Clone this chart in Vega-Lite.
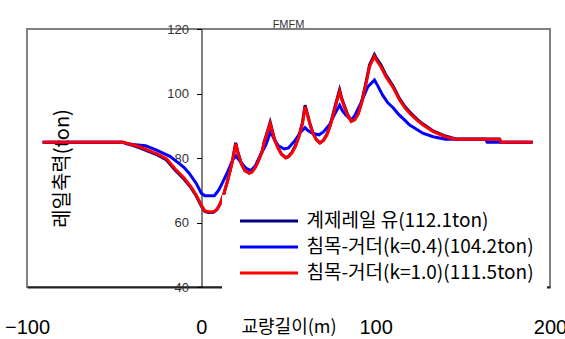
{
  "$schema": "https://vega.github.io/schema/vega-lite/v6.json",
  "width": 523,
  "height": 258,
  "autosize": {"type": "none"},
  "padding": {"left": 27, "top": 29, "right": 15, "bottom": 52},
  "background": "white",
  "title": {"text": "FMFM", "font": "Liberation Sans", "fontSize": 11, "fontWeight": "normal", "color": "#333", "baseline": "bottom", "offset": 4, "dy": 22, "frame": "group", "anchor": "middle"},
  "config": {"view": {"stroke": "#808080", "strokeWidth": 2}},
  "data": {"values": [
    {"s": "계제레일 유(112.1ton)", "x": -91, "y": 84.9}, {"s": "계제레일 유(112.1ton)", "x": -45, "y": 84.9}, {"s": "계제레일 유(112.1ton)", "x": -40, "y": 84.0}, {"s": "계제레일 유(112.1ton)", "x": -35, "y": 83.1}, {"s": "계제레일 유(112.1ton)", "x": -30, "y": 82.0}, {"s": "계제레일 유(112.1ton)", "x": -25, "y": 80.9}, {"s": "계제레일 유(112.1ton)", "x": -20, "y": 79.4}, {"s": "계제레일 유(112.1ton)", "x": -15, "y": 76.2}, {"s": "계제레일 유(112.1ton)", "x": -10, "y": 73.5}, {"s": "계제레일 유(112.1ton)", "x": -6, "y": 70.8}, {"s": "계제레일 유(112.1ton)", "x": -3, "y": 68.3}, {"s": "계제레일 유(112.1ton)", "x": 0, "y": 65.1}, {"s": "계제레일 유(112.1ton)", "x": 2, "y": 63.4}, {"s": "계제레일 유(112.1ton)", "x": 4, "y": 63.1}, {"s": "계제레일 유(112.1ton)", "x": 7, "y": 63.2}, {"s": "계제레일 유(112.1ton)", "x": 9, "y": 64.0}, {"s": "계제레일 유(112.1ton)", "x": 11, "y": 66.0}, {"s": "계제레일 유(112.1ton)", "x": 13, "y": 69.0}, {"s": "계제레일 유(112.1ton)", "x": 15, "y": 72.8}, {"s": "계제레일 유(112.1ton)", "x": 17, "y": 77.2}, {"s": "계제레일 유(112.1ton)", "x": 18, "y": 79.6}, {"s": "계제레일 유(112.1ton)", "x": 19.7, "y": 84.7}, {"s": "계제레일 유(112.1ton)", "x": 21, "y": 81.8}, {"s": "계제레일 유(112.1ton)", "x": 23, "y": 78.2}, {"s": "계제레일 유(112.1ton)", "x": 25, "y": 76.1}, {"s": "계제레일 유(112.1ton)", "x": 27.5, "y": 75.3}, {"s": "계제레일 유(112.1ton)", "x": 29, "y": 75.7}, {"s": "계제레일 유(112.1ton)", "x": 31, "y": 77.2}, {"s": "계제레일 유(112.1ton)", "x": 33, "y": 79.6}, {"s": "계제레일 유(112.1ton)", "x": 35, "y": 82.3}, {"s": "계제레일 유(112.1ton)", "x": 36, "y": 84.9}, {"s": "계제레일 유(112.1ton)", "x": 38, "y": 88.4}, {"s": "계제레일 유(112.1ton)", "x": 39.5, "y": 91.1}, {"s": "계제레일 유(112.1ton)", "x": 41, "y": 87.9}, {"s": "계제레일 유(112.1ton)", "x": 42, "y": 85.8}, {"s": "계제레일 유(112.1ton)", "x": 44, "y": 83.2}, {"s": "계제레일 유(112.1ton)", "x": 46, "y": 81.2}, {"s": "계제레일 유(112.1ton)", "x": 48.5, "y": 80.1}, {"s": "계제레일 유(112.1ton)", "x": 50, "y": 80.5}, {"s": "계제레일 유(112.1ton)", "x": 52, "y": 81.8}, {"s": "계제레일 유(112.1ton)", "x": 54, "y": 83.9}, {"s": "계제레일 유(112.1ton)", "x": 56, "y": 86.9}, {"s": "계제레일 유(112.1ton)", "x": 58, "y": 91.0}, {"s": "계제레일 유(112.1ton)", "x": 59.5, "y": 96.4}, {"s": "계제레일 유(112.1ton)", "x": 61, "y": 93.4}, {"s": "계제레일 유(112.1ton)", "x": 62.5, "y": 90.3}, {"s": "계제레일 유(112.1ton)", "x": 64, "y": 87.8}, {"s": "계제레일 유(112.1ton)", "x": 66, "y": 85.7}, {"s": "계제레일 유(112.1ton)", "x": 68, "y": 84.7}, {"s": "계제레일 유(112.1ton)", "x": 70, "y": 85.5}, {"s": "계제레일 유(112.1ton)", "x": 72, "y": 87.3}, {"s": "계제레일 유(112.1ton)", "x": 74, "y": 90.4}, {"s": "계제레일 유(112.1ton)", "x": 76, "y": 94.5}, {"s": "계제레일 유(112.1ton)", "x": 77.5, "y": 97.6}, {"s": "계제레일 유(112.1ton)", "x": 79.3, "y": 101.2}, {"s": "계제레일 유(112.1ton)", "x": 80.5, "y": 98.6}, {"s": "계제레일 유(112.1ton)", "x": 82, "y": 96.3}, {"s": "계제레일 유(112.1ton)", "x": 84, "y": 93.4}, {"s": "계제레일 유(112.1ton)", "x": 86, "y": 91.5}, {"s": "계제레일 유(112.1ton)", "x": 88, "y": 92.0}, {"s": "계제레일 유(112.1ton)", "x": 90, "y": 93.9}, {"s": "계제레일 유(112.1ton)", "x": 92, "y": 97.5}, {"s": "계제레일 유(112.1ton)", "x": 94.5, "y": 103.6}, {"s": "계제레일 유(112.1ton)", "x": 96.5, "y": 108.9}, {"s": "계제레일 유(112.1ton)", "x": 99.3, "y": 112.1}, {"s": "계제레일 유(112.1ton)", "x": 100.5, "y": 110.9}, {"s": "계제레일 유(112.1ton)", "x": 103, "y": 108.9}, {"s": "계제레일 유(112.1ton)", "x": 106, "y": 105.6}, {"s": "계제레일 유(112.1ton)", "x": 110, "y": 102.3}, {"s": "계제레일 유(112.1ton)", "x": 113.6, "y": 98.5}, {"s": "계제레일 유(112.1ton)", "x": 117, "y": 95.8}, {"s": "계제레일 유(112.1ton)", "x": 120, "y": 94.0}, {"s": "계제레일 유(112.1ton)", "x": 124, "y": 91.9}, {"s": "계제레일 유(112.1ton)", "x": 127, "y": 90.6}, {"s": "계제레일 유(112.1ton)", "x": 133, "y": 88.4}, {"s": "계제레일 유(112.1ton)", "x": 140, "y": 86.8}, {"s": "계제레일 유(112.1ton)", "x": 146, "y": 85.9}, {"s": "계제레일 유(112.1ton)", "x": 171, "y": 85.9}, {"s": "계제레일 유(112.1ton)", "x": 172, "y": 84.9}, {"s": "계제레일 유(112.1ton)", "x": 190, "y": 84.9},
    {"s": "침목-거더(k=0.4)(104.2ton)", "x": -91, "y": 84.9}, {"s": "침목-거더(k=0.4)(104.2ton)", "x": -45, "y": 84.9}, {"s": "침목-거더(k=0.4)(104.2ton)", "x": -43, "y": 84.4}, {"s": "침목-거더(k=0.4)(104.2ton)", "x": -38, "y": 84.1}, {"s": "침목-거더(k=0.4)(104.2ton)", "x": -32, "y": 83.8}, {"s": "침목-거더(k=0.4)(104.2ton)", "x": -26, "y": 82.5}, {"s": "침목-거더(k=0.4)(104.2ton)", "x": -22, "y": 81.5}, {"s": "침목-거더(k=0.4)(104.2ton)", "x": -18, "y": 80.5}, {"s": "침목-거더(k=0.4)(104.2ton)", "x": -13, "y": 78.4}, {"s": "침목-거더(k=0.4)(104.2ton)", "x": -10, "y": 77.1}, {"s": "침목-거더(k=0.4)(104.2ton)", "x": -7, "y": 75.3}, {"s": "침목-거더(k=0.4)(104.2ton)", "x": -3, "y": 72.2}, {"s": "침목-거더(k=0.4)(104.2ton)", "x": 0, "y": 69.1}, {"s": "침목-거더(k=0.4)(104.2ton)", "x": 2, "y": 68.3}, {"s": "침목-거더(k=0.4)(104.2ton)", "x": 7.5, "y": 68.3}, {"s": "침목-거더(k=0.4)(104.2ton)", "x": 10, "y": 70.1}, {"s": "침목-거더(k=0.4)(104.2ton)", "x": 12, "y": 72.2}, {"s": "침목-거더(k=0.4)(104.2ton)", "x": 15, "y": 75.6}, {"s": "침목-거더(k=0.4)(104.2ton)", "x": 18, "y": 79.4}, {"s": "침목-거더(k=0.4)(104.2ton)", "x": 19.8, "y": 80.7}, {"s": "침목-거더(k=0.4)(104.2ton)", "x": 22, "y": 79.1}, {"s": "침목-거더(k=0.4)(104.2ton)", "x": 25.5, "y": 76.9}, {"s": "침목-거더(k=0.4)(104.2ton)", "x": 28.5, "y": 76.1}, {"s": "침목-거더(k=0.4)(104.2ton)", "x": 31, "y": 77.6}, {"s": "침목-거더(k=0.4)(104.2ton)", "x": 34, "y": 81.0}, {"s": "침목-거더(k=0.4)(104.2ton)", "x": 37, "y": 84.1}, {"s": "침목-거더(k=0.4)(104.2ton)", "x": 39.8, "y": 88.2}, {"s": "침목-거더(k=0.4)(104.2ton)", "x": 42, "y": 85.6}, {"s": "침목-거더(k=0.4)(104.2ton)", "x": 44, "y": 83.9}, {"s": "침목-거더(k=0.4)(104.2ton)", "x": 47.5, "y": 82.8}, {"s": "침목-거더(k=0.4)(104.2ton)", "x": 50, "y": 83.1}, {"s": "침목-거더(k=0.4)(104.2ton)", "x": 54, "y": 85.6}, {"s": "침목-거더(k=0.4)(104.2ton)", "x": 57, "y": 88.1}, {"s": "침목-거더(k=0.4)(104.2ton)", "x": 59.5, "y": 89.4}, {"s": "침목-거더(k=0.4)(104.2ton)", "x": 61, "y": 88.6}, {"s": "침목-거더(k=0.4)(104.2ton)", "x": 64, "y": 87.6}, {"s": "침목-거더(k=0.4)(104.2ton)", "x": 67.5, "y": 87.2}, {"s": "침목-거더(k=0.4)(104.2ton)", "x": 70, "y": 88.1}, {"s": "침목-거더(k=0.4)(104.2ton)", "x": 73.5, "y": 90.3}, {"s": "침목-거더(k=0.4)(104.2ton)", "x": 76, "y": 93.1}, {"s": "침목-거더(k=0.4)(104.2ton)", "x": 79.3, "y": 96.4}, {"s": "침목-거더(k=0.4)(104.2ton)", "x": 81, "y": 94.6}, {"s": "침목-거더(k=0.4)(104.2ton)", "x": 83, "y": 93.3}, {"s": "침목-거더(k=0.4)(104.2ton)", "x": 86, "y": 91.8}, {"s": "침목-거더(k=0.4)(104.2ton)", "x": 88, "y": 93.1}, {"s": "침목-거더(k=0.4)(104.2ton)", "x": 91.5, "y": 97.0}, {"s": "침목-거더(k=0.4)(104.2ton)", "x": 95.5, "y": 102.1}, {"s": "침목-거더(k=0.4)(104.2ton)", "x": 99.3, "y": 104.2}, {"s": "침목-거더(k=0.4)(104.2ton)", "x": 101, "y": 102.6}, {"s": "침목-거더(k=0.4)(104.2ton)", "x": 104, "y": 99.5}, {"s": "침목-거더(k=0.4)(104.2ton)", "x": 107, "y": 97.1}, {"s": "침목-거더(k=0.4)(104.2ton)", "x": 110, "y": 95.6}, {"s": "침목-거더(k=0.4)(104.2ton)", "x": 113.6, "y": 93.3}, {"s": "침목-거더(k=0.4)(104.2ton)", "x": 117, "y": 91.6}, {"s": "침목-거더(k=0.4)(104.2ton)", "x": 119.3, "y": 90.3}, {"s": "침목-거더(k=0.4)(104.2ton)", "x": 123, "y": 89.1}, {"s": "침목-거더(k=0.4)(104.2ton)", "x": 127, "y": 87.7}, {"s": "침목-거더(k=0.4)(104.2ton)", "x": 133, "y": 86.6}, {"s": "침목-거더(k=0.4)(104.2ton)", "x": 140, "y": 85.8}, {"s": "침목-거더(k=0.4)(104.2ton)", "x": 163, "y": 85.8}, {"s": "침목-거더(k=0.4)(104.2ton)", "x": 164, "y": 84.9}, {"s": "침목-거더(k=0.4)(104.2ton)", "x": 190, "y": 84.9},
    {"s": "침목-거더(k=1.0)(111.5ton)", "x": -91, "y": 84.9}, {"s": "침목-거더(k=1.0)(111.5ton)", "x": -45, "y": 84.9}, {"s": "침목-거더(k=1.0)(111.5ton)", "x": -40, "y": 84.2}, {"s": "침목-거더(k=1.0)(111.5ton)", "x": -35, "y": 83.4}, {"s": "침목-거더(k=1.0)(111.5ton)", "x": -30, "y": 82.3}, {"s": "침목-거더(k=1.0)(111.5ton)", "x": -25, "y": 81.2}, {"s": "침목-거더(k=1.0)(111.5ton)", "x": -20, "y": 79.8}, {"s": "침목-거더(k=1.0)(111.5ton)", "x": -15, "y": 76.6}, {"s": "침목-거더(k=1.0)(111.5ton)", "x": -10, "y": 73.9}, {"s": "침목-거더(k=1.0)(111.5ton)", "x": -6, "y": 71.1}, {"s": "침목-거더(k=1.0)(111.5ton)", "x": -3, "y": 68.6}, {"s": "침목-거더(k=1.0)(111.5ton)", "x": 0, "y": 65.4}, {"s": "침목-거더(k=1.0)(111.5ton)", "x": 2, "y": 63.6}, {"s": "침목-거더(k=1.0)(111.5ton)", "x": 4, "y": 63.3}, {"s": "침목-거더(k=1.0)(111.5ton)", "x": 7, "y": 63.3}, {"s": "침목-거더(k=1.0)(111.5ton)", "x": 9, "y": 64.1}, {"s": "침목-거더(k=1.0)(111.5ton)", "x": 11, "y": 66.1}, {"s": "침목-거더(k=1.0)(111.5ton)", "x": 13, "y": 69.1}, {"s": "침목-거더(k=1.0)(111.5ton)", "x": 15, "y": 72.8}, {"s": "침목-거더(k=1.0)(111.5ton)", "x": 17, "y": 77.1}, {"s": "침목-거더(k=1.0)(111.5ton)", "x": 18, "y": 79.4}, {"s": "침목-거더(k=1.0)(111.5ton)", "x": 19.7, "y": 84.4}, {"s": "침목-거더(k=1.0)(111.5ton)", "x": 21, "y": 81.6}, {"s": "침목-거더(k=1.0)(111.5ton)", "x": 23, "y": 78.1}, {"s": "침목-거더(k=1.0)(111.5ton)", "x": 25, "y": 76.1}, {"s": "침목-거더(k=1.0)(111.5ton)", "x": 27.5, "y": 75.3}, {"s": "침목-거더(k=1.0)(111.5ton)", "x": 29, "y": 75.6}, {"s": "침목-거더(k=1.0)(111.5ton)", "x": 31, "y": 77.1}, {"s": "침목-거더(k=1.0)(111.5ton)", "x": 33, "y": 79.4}, {"s": "침목-거더(k=1.0)(111.5ton)", "x": 35, "y": 82.1}, {"s": "침목-거더(k=1.0)(111.5ton)", "x": 36, "y": 84.6}, {"s": "침목-거더(k=1.0)(111.5ton)", "x": 38, "y": 88.1}, {"s": "침목-거더(k=1.0)(111.5ton)", "x": 39.5, "y": 90.7}, {"s": "침목-거더(k=1.0)(111.5ton)", "x": 41, "y": 87.6}, {"s": "침목-거더(k=1.0)(111.5ton)", "x": 42, "y": 85.6}, {"s": "침목-거더(k=1.0)(111.5ton)", "x": 44, "y": 83.1}, {"s": "침목-거더(k=1.0)(111.5ton)", "x": 46, "y": 81.1}, {"s": "침목-거더(k=1.0)(111.5ton)", "x": 48.5, "y": 80.0}, {"s": "침목-거더(k=1.0)(111.5ton)", "x": 50, "y": 80.4}, {"s": "침목-거더(k=1.0)(111.5ton)", "x": 52, "y": 81.6}, {"s": "침목-거더(k=1.0)(111.5ton)", "x": 54, "y": 83.6}, {"s": "침목-거더(k=1.0)(111.5ton)", "x": 56, "y": 86.6}, {"s": "침목-거더(k=1.0)(111.5ton)", "x": 58, "y": 90.6}, {"s": "침목-거더(k=1.0)(111.5ton)", "x": 59.5, "y": 95.9}, {"s": "침목-거더(k=1.0)(111.5ton)", "x": 61, "y": 93.1}, {"s": "침목-거더(k=1.0)(111.5ton)", "x": 62.5, "y": 90.1}, {"s": "침목-거더(k=1.0)(111.5ton)", "x": 64, "y": 87.6}, {"s": "침목-거더(k=1.0)(111.5ton)", "x": 66, "y": 85.6}, {"s": "침목-거더(k=1.0)(111.5ton)", "x": 68, "y": 84.6}, {"s": "침목-거더(k=1.0)(111.5ton)", "x": 70, "y": 85.4}, {"s": "침목-거더(k=1.0)(111.5ton)", "x": 72, "y": 87.1}, {"s": "침목-거더(k=1.0)(111.5ton)", "x": 74, "y": 90.1}, {"s": "침목-거더(k=1.0)(111.5ton)", "x": 76, "y": 94.1}, {"s": "침목-거더(k=1.0)(111.5ton)", "x": 77.5, "y": 97.1}, {"s": "침목-거더(k=1.0)(111.5ton)", "x": 79.3, "y": 100.6}, {"s": "침목-거더(k=1.0)(111.5ton)", "x": 80.5, "y": 98.1}, {"s": "침목-거더(k=1.0)(111.5ton)", "x": 82, "y": 95.9}, {"s": "침목-거더(k=1.0)(111.5ton)", "x": 84, "y": 93.1}, {"s": "침목-거더(k=1.0)(111.5ton)", "x": 86, "y": 91.3}, {"s": "침목-거더(k=1.0)(111.5ton)", "x": 88, "y": 91.8}, {"s": "침목-거더(k=1.0)(111.5ton)", "x": 90, "y": 93.6}, {"s": "침목-거더(k=1.0)(111.5ton)", "x": 92, "y": 97.1}, {"s": "침목-거더(k=1.0)(111.5ton)", "x": 94.5, "y": 103.1}, {"s": "침목-거더(k=1.0)(111.5ton)", "x": 96.5, "y": 108.3}, {"s": "침목-거더(k=1.0)(111.5ton)", "x": 99.3, "y": 111.5}, {"s": "침목-거더(k=1.0)(111.5ton)", "x": 100.5, "y": 110.3}, {"s": "침목-거더(k=1.0)(111.5ton)", "x": 103, "y": 108.3}, {"s": "침목-거더(k=1.0)(111.5ton)", "x": 106, "y": 105.1}, {"s": "침목-거더(k=1.0)(111.5ton)", "x": 110, "y": 101.9}, {"s": "침목-거더(k=1.0)(111.5ton)", "x": 113.6, "y": 98.1}, {"s": "침목-거더(k=1.0)(111.5ton)", "x": 117, "y": 95.4}, {"s": "침목-거더(k=1.0)(111.5ton)", "x": 120, "y": 93.6}, {"s": "침목-거더(k=1.0)(111.5ton)", "x": 124, "y": 91.6}, {"s": "침목-거더(k=1.0)(111.5ton)", "x": 127, "y": 90.3}, {"s": "침목-거더(k=1.0)(111.5ton)", "x": 133, "y": 88.2}, {"s": "침목-거더(k=1.0)(111.5ton)", "x": 140, "y": 86.6}, {"s": "침목-거더(k=1.0)(111.5ton)", "x": 146, "y": 85.8}, {"s": "침목-거더(k=1.0)(111.5ton)", "x": 171, "y": 85.8}, {"s": "침목-거더(k=1.0)(111.5ton)", "x": 172, "y": 84.9}, {"s": "침목-거더(k=1.0)(111.5ton)", "x": 190, "y": 84.9}
  ]},
  "mark": {"type": "line", "strokeWidth": 3, "interpolate": "linear"},
  "encoding": {
    "x": {"field": "x", "type": "quantitative",
      "scale": {"domain": [-100, 200], "nice": false, "zero": false},
      "axis": {"values": [-100, 0, 100, 200], "ticks": false, "grid": false, "domainColor": "#222", "domainWidth": 2,
        "labelFont": "Liberation Sans", "labelFontSize": 20, "labelColor": "#000", "labelPadding": 30, "labelFlush": false,
        "title": "교량길이(m)", "titleFont": "Noto Sans CJK KR", "titleFontSize": 18, "titleFontWeight": "normal", "titleColor": "#000", "titleY": 40, "titleBaseline": "middle"}},
    "y": {"field": "y", "type": "quantitative",
      "scale": {"domain": [40, 120], "nice": false, "zero": false},
      "axis": {"values": [40, 60, 80, 100, 120], "offset": -174.5, "grid": false, "domainColor": "#000", "tickColor": "#000", "tickSize": 5, "labelPadding": 8,
        "labelFont": "Liberation Sans", "labelFontSize": 13, "labelColor": "#333",
        "title": "레일축력(ton)", "titleFont": "Noto Sans CJK KR", "titleFontSize": 20, "titleFontWeight": "normal", "titleColor": "#000",
        "titleX": -139, "titleY": 139, "titleAngle": 270, "titleBaseline": "middle", "titleAlign": "center"}},
    "color": {"field": "s", "type": "nominal",
      "scale": {"domain": ["계제레일 유(112.1ton)", "침목-거더(k=0.4)(104.2ton)", "침목-거더(k=1.0)(111.5ton)"], "range": ["#000080", "#0000FF", "#FF0000"]},
      "legend": {"title": null, "orient": "none", "legendX": 195, "legendY": 166, "fillColor": "white", "padding": 13, "clipHeight": 26, "rowPadding": 0,
        "symbolType": "stroke", "symbolSize": 3364, "symbolStrokeWidth": 3, "symbolOffset": 3.5, "labelOffset": 7,
        "labelFont": "Noto Sans CJK KR", "labelFontSize": 19, "labelColor": "#000", "labelLimit": 500}}
  }
}
